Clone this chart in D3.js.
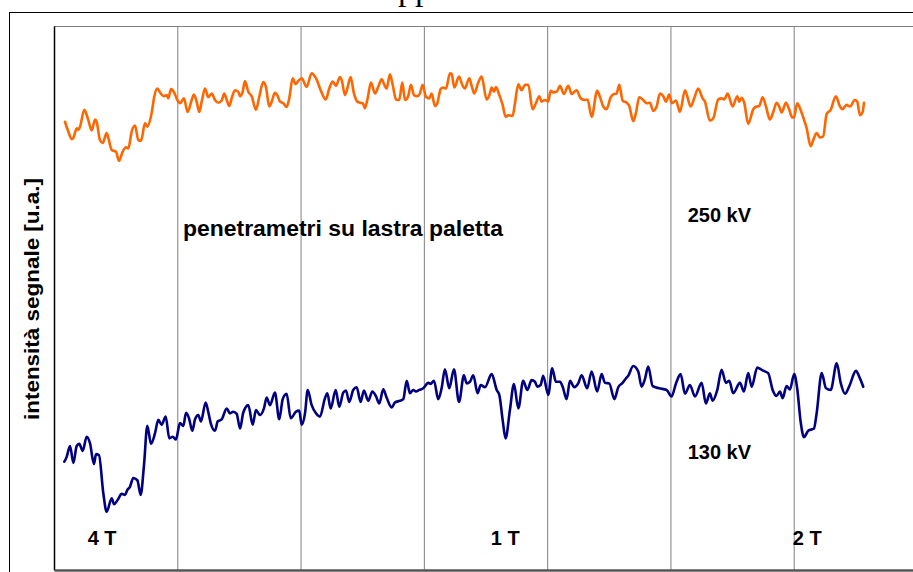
<!DOCTYPE html>
<html>
<head>
<meta charset="utf-8">
<script src="https://cdn.jsdelivr.net/npm/d3@7"></script>
<style>
  html, body { margin: 0; padding: 0; background: #fff; overflow: hidden; }
  svg { display: block; }
</style>
</head>
<body>
<script>
// Signal profiles across the plate: [position, intensity (a.u.)]
const trace250kV = [
  [8.9,82.4],[11.6,80.6],[14.4,79.2],[15.7,79.4],[18.4,81.2],[19.7,80.9],[21.1,81.5],[24.6,84.6],[27.8,82.7],[30.6,80.8],
  [33.3,82.8],[34.6,82.4],[37.3,79.0],[39.5,78.5],[42.7,80.3],[44.0,79.5],[46.8,77.2],[50.3,76.9],[52.7,75.2],[55.7,76.9],
  [58.4,77.7],[60.3,77.5],[63.0,80.6],[65.7,81.7],[68.4,79.0],[70.6,78.9],[73.8,82.1],[75.7,81.5],[79.2,84.0],[81.3,87.0],
  [83.8,88.5],[86.5,87.6],[89.2,87.1],[91.4,87.3],[92.7,86.7],[94.9,88.4],[97.6,87.7],[100.0,86.4],[102.2,85.8],[105.4,86.7],
  [108.4,84.2],[111.7,86.4],[113.5,87.4],[115.7,86.1],[117.8,84.2],[119.8,86.1],[122.5,88.5],[125.1,86.9],[127.9,87.6],[130.6,86.4],
  [133.3,85.9],[136.0,86.3],[138.1,87.6],[140.1,86.4],[142.2,85.3],[144.1,86.7],[146.8,88.2],[149.5,87.9],[150.9,87.1],[153.0,87.9],
  [154.9,89.9],[157.6,87.9],[160.3,87.1],[163.8,84.6],[166.5,87.0],[169.7,89.7],[171.9,88.8],[174.6,85.2],[176.6,86.1],[179.2,87.7],
  [181.1,87.3],[183.3,86.1],[186.0,85.8],[188.7,85.1],[190.8,86.7],[193.6,90.4],[196.0,89.3],[198.1,89.9],[200.9,90.4],[204.9,88.8],
  [209.0,91.3],[212.5,90.4],[216.3,88.2],[220.4,86.5],[223.3,88.5],[226.0,89.8],[228.7,89.0],[232.0,90.6],[233.3,90.1],[236.0,87.3],
  [237.9,88.5],[240.6,90.6],[243.3,87.6],[246.0,86.1],[248.2,85.9],[250.4,85.8],[252.2,84.9],[254.4,86.7],[257.1,89.6],[260.3,87.6],
  [263.0,88.8],[265.8,90.2],[267.9,89.2],[269.8,88.5],[272.5,91.1],[274.7,89.2],[277.4,86.5],[280.0,86.4],[282.5,89.6],[284.7,86.4],
  [287.3,87.1],[289.5,89.2],[292.0,87.3],[294.6,87.1],[296.8,87.6],[299.0,89.2],[301.7,87.0],[304.4,86.7],[306.3,87.6],[309.0,85.3],
  [310.9,85.8],[313.6,88.4],[315.7,88.7],[317.9,88.5],[321.2,91.3],[322.5,91.2],[324.7,88.7],[328.5,90.7],[331.1,89.2],[333.3,88.5],
  [336.8,90.4],[338.8,89.0],[340.9,87.6],[344.1,89.6],[346.9,90.7],[350.9,86.5],[353.6,87.6],[355.0,88.7],[356.9,87.9],[358.5,88.8],
  [361.2,87.3],[363.9,85.5],[366.3,83.3],[368.5,83.6],[372.0,83.5],[373.9,85.8],[376.6,89.3],[379.3,88.2],[382.0,89.2],[384.7,89.2],
  [388.2,84.7],[390.9,85.8],[393.6,87.1],[395.5,86.1],[398.2,86.4],[400.9,86.1],[402.8,88.1],[404.9,87.8],[407.7,87.9],[410.4,89.0],
  [413.6,87.5],[417.1,89.0],[419.9,87.5],[423.9,88.2],[427.2,86.7],[430.7,86.4],[432.8,86.5],[436.1,83.3],[440.6,88.1],[442.8,87.0],
  [445.5,85.2],[448.2,84.7],[451.5,86.9],[454.2,87.5],[456.4,87.6],[458.5,89.2],[461.2,86.3],[464.5,85.9],[466.6,85.3],[469.8,82.5],
  [472.0,84.0],[474.7,86.9],[477.9,86.4],[480.7,85.8],[483.4,85.9],[486.0,84.4],[488.8,85.2],[491.5,87.6],[494.2,87.1],[496.4,86.1],
  [499.0,87.4],[501.2,85.8],[504.5,86.3],[507.7,84.2],[511.8,88.2],[516.4,85.2],[519.3,86.7],[522.5,88.5],[526.1,86.7],[528.0,86.1],
  [532.0,82.6],[534.7,83.0],[538.8,86.5],[541.5,86.7],[543.6,86.5],[546.4,87.6],[550.4,85.2],[554.2,87.1],[555.8,86.1],[557.7,86.8],
  [559.9,85.8],[563.1,82.0],[567.2,84.7],[569.9,85.2],[572.0,85.3],[574.8,86.9],[577.5,85.2],[580.7,82.8],[583.4,84.2],[586.1,85.9],
  [588.2,85.2],[590.2,84.1],[593.7,85.9],[596.4,84.6],[598.8,83.2],[600.2,83.2],[602.8,85.8],[605.0,84.9],[608.3,82.8],[610.5,81.2],
  [613.7,77.9],[615.8,79.0],[618.6,80.3],[621.3,79.5],[623.9,79.7],[626.7,83.8],[630.0,84.6],[634.2,87.1],[637.5,85.2],[639.6,84.7],
  [642.9,85.5],[645.6,85.2],[649.6,86.4],[651.5,86.1],[653.7,83.6],[655.9,84.2],[657.0,85.9]
];

const trace130kV = [
  [8.4,19.9],[10.3,20.8],[13.0,22.8],[15.7,19.7],[18.4,22.8],[20.5,23.2],[23.3,21.9],[26.5,24.5],[29.2,23.3],[32.4,19.5],
  [34.1,21.3],[36.5,21.1],[40.0,14.1],[42.7,10.7],[46.8,13.2],[48.7,12.1],[51.7,12.9],[54.9,14.0],[57.6,13.8],[59.4,14.7],
  [61.6,15.3],[64.3,16.9],[67.6,16.5],[70.3,13.8],[73.0,19.3],[75.7,26.5],[78.7,23.2],[81.9,25.1],[84.6,27.6],[87.3,26.7],
  [90.6,28.2],[93.5,24.2],[96.3,24.5],[98.9,24.0],[102.2,27.0],[104.9,26.5],[107.1,28.9],[109.5,27.9],[112.2,25.6],[114.4,27.7],
  [117.0,28.5],[119.2,27.3],[123.0,30.8],[125.1,29.1],[127.1,27.0],[130.6,25.6],[132.8,27.3],[136.0,27.7],[140.1,29.7],[142.7,28.8],
  [145.4,29.1],[148.2,28.7],[150.9,26.0],[153.5,28.9],[157.6,30.3],[161.2,26.7],[163.8,29.4],[167.1,28.5],[170.3,29.7],[172.5,31.7],
  [175.2,30.3],[179.2,32.6],[182.7,27.7],[185.5,31.4],[188.7,32.4],[192.0,27.9],[196.3,29.1],[198.9,29.3],[200.9,26.7],[203.6,28.8],
  [205.8,33.1],[209.0,30.3],[212.5,28.8],[215.7,28.2],[219.8,31.6],[221.7,32.5],[224.4,29.7],[228.5,33.1],[231.4,30.0],[234.6,32.6],
  [236.8,33.0],[239.5,30.9],[242.7,33.1],[245.5,33.6],[248.7,30.9],[251.4,33.0],[254.9,31.1],[258.2,32.8],[261.2,31.9],[263.8,30.6],
  [267.1,33.2],[269.8,31.7],[273.9,29.9],[276.6,30.8],[280.6,31.1],[283.3,31.4],[286.1,34.8],[288.7,32.5],[291.4,33.1],[293.6,32.8],
  [296.3,33.1],[299.5,33.4],[303.6,34.4],[305.5,34.2],[308.2,34.8],[311.7,31.4],[314.4,33.4],[317.1,36.9],[320.6,33.4],[324.4,36.9],
  [328.5,30.9],[332.5,35.8],[334.7,34.3],[337.4,34.6],[340.1,35.8],[343.6,32.5],[346.1,34.0],[349.6,33.6],[355.0,36.0],[359.1,33.1],
  [361.2,32.2],[363.9,27.6],[366.3,24.2],[369.8,29.4],[373.1,34.2],[376.6,29.7],[380.6,34.8],[383.9,33.1],[387.4,34.9],[390.1,34.6],
  [392.0,33.7],[394.7,34.0],[396.8,35.7],[400.9,32.2],[404.1,37.1],[407.1,34.6],[410.4,34.6],[412.6,33.7],[415.8,31.4],[418.5,34.8],
  [422.0,33.6],[425.2,34.3],[428.0,35.8],[432.5,33.4],[436.1,36.5],[440.6,32.8],[444.2,36.0],[446.9,34.4],[450.4,34.3],[454.5,31.4],
  [457.7,33.6],[461.2,34.4],[463.9,35.2],[465.8,35.7],[469.8,37.5],[473.9,36.5],[476.6,33.7],[479.3,35.1],[482.0,37.4],[485.6,33.8],
  [490.9,33.4],[496.9,33.1],[500.9,31.9],[504.5,34.3],[508.3,36.0],[511.8,32.4],[515.8,34.0],[519.9,31.9],[525.3,34.4],[528.8,30.6],
  [532.0,32.5],[534.2,31.1],[538.0,33.1],[541.5,36.8],[545.0,34.4],[547.7,34.8],[550.9,32.5],[556.4,34.4],[559.6,32.8],[563.1,36.2],
  [565.9,33.7],[570.4,37.2],[574.0,36.8],[576.6,36.5],[579.3,36.2],[582.9,33.1],[586.1,32.0],[588.8,32.8],[591.0,31.6],[594.2,33.8],
  [596.9,33.2],[600.4,36.0],[602.8,33.4],[605.6,27.3],[608.3,24.4],[611.8,25.6],[616.4,26.0],[618.6,28.8],[622.7,36.2],[626.2,33.4],
  [630.0,33.1],[634.9,38.0],[638.1,34.4],[641.6,32.4],[645.1,33.8],[650.5,36.6],[653.2,35.5],[656.4,33.7]
];

const gridPositions = [100, 200, 300, 400, 500, 600];
const seriesColors = ["#FF6600", "#000080"];
const seriesLabels = [
  { text: "250 kV", x: 514, y: 64.0 },
  { text: "130 kV", x: 514, y: 20.4 }
];
const noteLabel = { text: "penetrametri su lastra paletta", x: 104.6, y: 61.4 };
const iqiLabels = [
  { text: "4 T", x: 39, y: 4.6 },
  { text: "1 T", x: 366, y: 4.6 },
  { text: "2 T", x: 611, y: 4.6 }
];
const yTitle = "intensità segnale [u.a.]";
const chartTitle = "pp";

const W = 913, H = 572;
const plot = { left: 54, top: 26, right: 917, bottom: 570 };

const svg = d3.select("body").append("svg")
  .attr("width", W).attr("height", H)
  .style("font-family", "Arial, 'Liberation Sans', sans-serif");

svg.append("rect").attr("width", W).attr("height", H).attr("fill", "#fff");

// chart title, sitting above the frame
svg.append("text")
  .attr("x", 415).attr("y", 0)
  .attr("text-anchor", "middle")
  .style("font-family", "'Liberation Serif', 'Times New Roman', serif")
  .style("font-size", "34px")
  .text(chartTitle);

// outer chart frame
svg.append("rect")
  .attr("x", 9.5).attr("y", 12.5)
  .attr("width", 1000).attr("height", 1000)
  .attr("fill", "#fff").attr("stroke", "#000").attr("stroke-width", 1);

const x = d3.scaleLinear().domain([0, 700]).range([plot.left, plot.right]);
const y = d3.scaleLinear().domain([0, 100]).range([plot.bottom, plot.top]);

// plot area top border
svg.append("line")
  .attr("x1", plot.left).attr("x2", W)
  .attr("y1", plot.top + 0.5).attr("y2", plot.top + 0.5)
  .attr("stroke", "#808080").attr("stroke-width", 1);

// vertical gridlines
const grid = svg.append("g")
  .attr("transform", `translate(0,${plot.bottom})`)
  .call(d3.axisBottom(x).tickValues(gridPositions)
    .tickSize(-(plot.bottom - plot.top)).tickFormat(""));
grid.select(".domain").remove();
grid.selectAll(".tick line").attr("stroke", "#808080").attr("stroke-width", 1);

// value axis (no labels) and category axis line
const yAxis = svg.append("g")
  .attr("transform", `translate(${plot.left},0)`)
  .call(d3.axisLeft(y).tickValues([]).tickSizeOuter(0));
yAxis.select(".domain").attr("stroke", "#000").attr("stroke-width", 1.5);

const xAxis = svg.append("g")
  .attr("transform", `translate(0,${plot.bottom})`)
  .call(d3.axisBottom(x).tickValues([]).tickSizeOuter(0));
xAxis.select(".domain").attr("stroke", "#555").attr("stroke-width", 2.5);

// signal traces
const line = d3.line()
  .x(d => x(d[0])).y(d => y(d[1]))
  .curve(d3.curveMonotoneX);

[trace250kV, trace130kV].forEach((s, i) => {
  svg.append("path")
    .datum(s)
    .attr("d", line)
    .attr("fill", "none")
    .attr("stroke", seriesColors[i])
    .attr("stroke-width", 2.6)
    .attr("stroke-linejoin", "round")
    .attr("stroke-linecap", "round");
});

// annotations
const bold = sel => sel.style("font-weight", "bold").attr("fill", "#000");

seriesLabels.forEach(l => {
  svg.append("text").call(bold)
    .attr("x", x(l.x)).attr("y", y(l.y))
    .style("font-size", "20px")
    .text(l.text);
});

svg.append("text").call(bold)
  .attr("x", x(noteLabel.x)).attr("y", y(noteLabel.y))
  .style("font-size", "22px")
  .attr("textLength", 320).attr("lengthAdjust", "spacingAndGlyphs")
  .text(noteLabel.text);

iqiLabels.forEach(l => {
  svg.append("text").call(bold)
    .attr("x", x(l.x)).attr("y", y(l.y))
    .attr("text-anchor", "middle")
    .style("font-size", "20px")
    .text(l.text);
});

// y axis title
svg.append("text").call(bold)
  .attr("transform", `translate(39,${(178 + 420) / 2}) rotate(-90)`)
  .attr("text-anchor", "middle")
  .style("font-size", "21px")
  .attr("textLength", 242).attr("lengthAdjust", "spacingAndGlyphs")
  .text(yTitle);
</script>
</body>
</html>
